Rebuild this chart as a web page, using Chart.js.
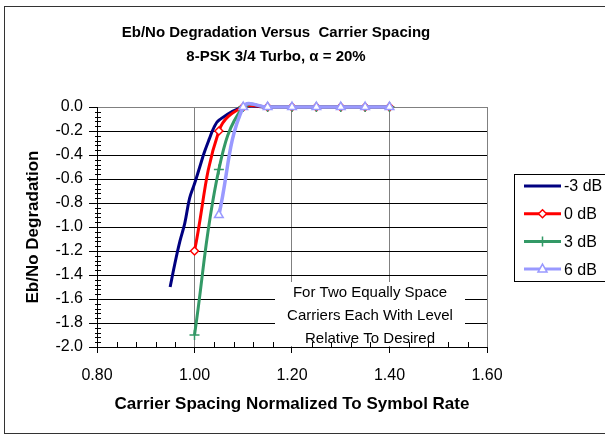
<!DOCTYPE html>
<html>
<head>
<meta charset="utf-8">
<script src="https://cdn.jsdelivr.net/npm/chart.js@4.4.0/dist/chart.umd.min.js"></script>
<style>
  body { margin: 0; background: #fff; }
  canvas { display: block; }
</style>
</head>
<body>
<canvas id="myChart" width="605" height="435"></canvas>
<script>
const canvas = document.getElementById("myChart");
const FONT = "Arial, 'Liberation Sans', sans-serif";

const titleLines = ["Eb/No Degradation Versus  Carrier Spacing", "8-PSK 3/4 Turbo, \u03b1 = 20%"];
const noteLines = ["For Two Equally Space", "Carriers Each With Level", "Relative To Desired"];
const xTitle = "Carrier Spacing Normalized To Symbol Rate";
const yTitle = "Eb/No Degradation";

// carrier spacing (normalized) for each series
const spacingM3 = [0.95, 0.96, 0.97, 0.98, 0.99, 1.00, 1.01, 1.02, 1.03, 1.04, 1.05, 1.10, 1.15, 1.20, 1.25, 1.30, 1.35, 1.40];
const spacing0 = [1.00, 1.05, 1.10, 1.15, 1.20, 1.25, 1.30, 1.35, 1.40];
const spacing3 = [1.00, 1.05, 1.10, 1.15, 1.20, 1.25, 1.30, 1.35, 1.40];
const spacing6 = [1.05, 1.10, 1.15, 1.20, 1.25, 1.30, 1.35, 1.40];

// degradation values (dB)
const degM3 = [-1.50, -1.30, -1.12, -0.97, -0.76, -0.64, -0.51, -0.38, -0.27, -0.17, -0.11, 0, 0, 0, 0, 0, 0, 0];
const deg0 = [-1.20, -0.20, 0, 0, 0, 0, 0, 0, 0];
const deg3 = [-1.90, -0.52, 0, 0, 0, 0, 0, 0, 0];
const deg6 = [-0.90, 0, 0, 0, 0, 0, 0, 0];

const seriesLabels = ["-3 dB", "0 dB", "3 dB", "6 dB"];

function pts(xs, ys) {
  return xs.map((x, i) => ({ x: x, y: ys[i] }));
}

function drawMarker(ctx, style, x, y, r, color) {
  if (style === false) return;
  ctx.save();
  ctx.strokeStyle = color;
  ctx.fillStyle = "#fff";
  ctx.lineWidth = 1.5;
  ctx.beginPath();
  if (style === "rectRot") {
    ctx.moveTo(x, y - r); ctx.lineTo(x + r, y); ctx.lineTo(x, y + r); ctx.lineTo(x - r, y);
    ctx.closePath(); ctx.fill(); ctx.stroke();
  } else if (style === "triangle") {
    ctx.moveTo(x, y - r); ctx.lineTo(x + r * 0.9, y + r * 0.6); ctx.lineTo(x - r * 0.9, y + r * 0.6);
    ctx.closePath(); ctx.fill(); ctx.stroke();
  } else if (style === "cross") {
    ctx.moveTo(x - r, y); ctx.lineTo(x + r, y); ctx.moveTo(x, y - r); ctx.lineTo(x, y + r);
    ctx.stroke();
  }
  ctx.restore();
}

const decor = {
  id: "decor",
  afterDraw(chart) {
    const ctx = chart.ctx;
    const xs = chart.scales.x, ys = chart.scales.y;
    ctx.save();

    // note box, covers the grid
    ctx.fillStyle = "#fff";
    ctx.fillRect(275, 282, 190, 64);
    ctx.fillStyle = "#000";
    ctx.font = "15px " + FONT;
    ctx.textAlign = "center";
    ctx.textBaseline = "middle";
    noteLines.forEach((t, i) => ctx.fillText(t, 370, 293 + i * 23));

    // outer frame
    ctx.strokeStyle = "#333";
    ctx.lineWidth = 1;
    ctx.strokeRect(4.5, 6.5, 640, 427);

    // title
    ctx.fillStyle = "#000";
    ctx.font = "bold 15px " + FONT;
    titleLines.forEach((t, i) => ctx.fillText(t, 276, 33 + i * 24));

    // minor ticks
    ctx.strokeStyle = "#000";
    ctx.beginPath();
    for (let k = 0; k <= 50; k++) {
      if (k % 5 === 0) continue;
      const py = Math.round(ys.getPixelForValue(-2 + k * 0.04)) + 0.5;
      ctx.moveTo(95, py); ctx.lineTo(101, py);
    }
    for (let k = 0; k <= 20; k++) {
      if (k % 5 === 0) continue;
      const px = Math.round(xs.getPixelForValue(0.8 + k * 0.04)) + 0.5;
      ctx.moveTo(px, 342); ctx.lineTo(px, 347);
    }
    ctx.stroke();

    // legend
    ctx.strokeStyle = "#000";
    ctx.lineWidth = 1;
    ctx.strokeRect(514.5, 174.5, 120, 107);
    ctx.font = "16px " + FONT;
    ctx.textAlign = "left";
    chart.data.datasets.forEach((ds, i) => {
      const y = 186 + i * 27.7;
      ctx.strokeStyle = ds.borderColor;
      ctx.lineWidth = 3;
      ctx.beginPath();
      ctx.moveTo(524, y); ctx.lineTo(561, y);
      ctx.stroke();
      drawMarker(ctx, ds.pointStyle, 542.5, y, ds.pointRadius || 4, ds.borderColor);
      ctx.fillStyle = "#000";
      ctx.fillText(ds.label, 564, y + 1);
    });
    ctx.restore();
  }
};

new Chart(canvas, {
  type: "line",
  data: {
    datasets: [
      {
        label: seriesLabels[0],
        data: pts(spacingM3, degM3),
        borderColor: "#000080",
        borderWidth: 3,
        pointRadius: 0,
        pointStyle: false,
        order: 4,
      },
      {
        label: seriesLabels[1],
        data: pts(spacing0, deg0),
        borderColor: "#ff0000",
        backgroundColor: "#fff",
        borderWidth: 3,
        pointStyle: "rectRot",
        pointRadius: 4,
        pointBorderWidth: 1.5,
        order: 3,
      },
      {
        label: seriesLabels[2],
        data: pts(spacing3, deg3),
        borderColor: "#339966",
        backgroundColor: "#339966",
        borderWidth: 3,
        pointStyle: "cross",
        pointRadius: 5,
        pointBorderWidth: 1.5,
        order: 2,
      },
      {
        label: seriesLabels[3],
        data: pts(spacing6, deg6),
        borderColor: "#9999ff",
        backgroundColor: "#fff",
        borderWidth: 3.5,
        pointStyle: "triangle",
        pointRadius: 5,
        pointBorderWidth: 1.5,
        order: 1,
      },
    ],
  },
  options: {
    responsive: false,
    animation: false,
    clip: false,
    elements: {
      line: { tension: 0.4, capBezierPoints: false, fill: false },
    },
    layout: { padding: { top: 107, right: 118, left: 4, bottom: 0 } },
    plugins: {
      legend: { display: false },
      tooltip: { enabled: false },
    },
    scales: {
      x: {
        type: "linear",
        min: 0.8,
        max: 1.6,
        afterFit: (s) => { s.height = 88; },
        ticks: {
          stepSize: 0.2,
          padding: 13,
          color: "#000",
          font: { family: FONT, size: 16 },
          callback: (v) => Number(v).toFixed(2),
        },
        grid: { color: "#808080", tickColor: "#000", tickLength: 6, lineWidth: 1 },
        border: { color: "#000", width: 1 },
        title: {
          display: true,
          text: xTitle,
          color: "#000",
          font: { family: FONT, size: 17, weight: "bold" },
          padding: { top: 0, bottom: 20 },
        },
      },
      y: {
        min: -2,
        max: 0,
        afterFit: (s) => { s.width = 93; },
        ticks: {
          stepSize: 0.2,
          padding: 6,
          color: "#000",
          font: { family: FONT, size: 16 },
          callback: (v) => (Math.abs(v) < 1e-9 ? "0.0" : Number(v).toFixed(1)),
        },
        grid: {
          color: (c) => (c.tick && Math.abs(c.tick.value) < 1e-9 ? "#808080" : "#000"),
          tickColor: "#000",
          tickLength: 8,
          lineWidth: 1,
        },
        border: { color: "#000", width: 1 },
        title: {
          display: true,
          text: yTitle,
          color: "#000",
          font: { family: FONT, size: 17, weight: "bold" },
          padding: { top: 19, bottom: 0 },
        },
      },
    },
  },
  plugins: [decor],
});
</script>
</body>
</html>
